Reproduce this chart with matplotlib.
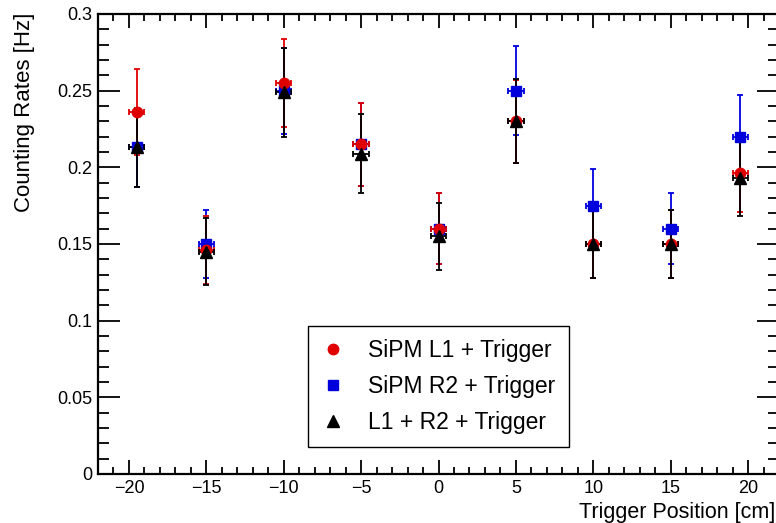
#!/usr/bin/env python3
# Counting rates vs trigger position, three coincidence conditions.

import matplotlib
matplotlib.use('Agg')
import matplotlib.pyplot as plt
from matplotlib.ticker import MultipleLocator, FormatStrFormatter

plt.rcParams['font.family'] = ['Liberation Sans', 'DejaVu Sans']

# Data.

positions = [-19.5, -15, -10, -5, 0, 5, 10, 15, 19.5]
pos_err = [0.5] * 9

rate_l1 = [0.236, 0.146, 0.255, 0.215, 0.160, 0.230, 0.150, 0.150, 0.196]
err_l1 = [0.028, 0.022, 0.029, 0.027, 0.023, 0.027, 0.022, 0.022, 0.025]

rate_r2 = [0.213, 0.150, 0.250, 0.215, 0.160, 0.250, 0.175, 0.160, 0.220]
err_r2 = [0.026, 0.022, 0.028, 0.027, 0.023, 0.029, 0.024, 0.023, 0.027]

rate_both = [0.213, 0.145, 0.249, 0.209, 0.155, 0.230, 0.150, 0.150, 0.193]
err_both = [0.026, 0.022, 0.029, 0.026, 0.022, 0.0275, 0.022, 0.022, 0.025]

labels = ['SiPM L1 + Trigger', 'SiPM R2 + Trigger', 'L1 + R2 + Trigger']

# Figure and axes, placed like the original ROOT canvas.

fig = plt.figure(figsize=(7.76, 5.23), dpi=100)
ax = fig.add_axes([98 / 776, 49 / 523, 681 / 776, 460 / 523])

ebkw = dict(capsize=2, elinewidth=1.3, capthick=1.3, linestyle='none')
h_r2 = ax.errorbar(positions, rate_r2, xerr=pos_err, yerr=err_r2, fmt='s',
                   color='#0000dd', ms=6.5, **ebkw)
h_l1 = ax.errorbar(positions, rate_l1, xerr=pos_err, yerr=err_l1, fmt='o',
                   color='#e00000', ms=7.5, **ebkw)
h_both = ax.errorbar(positions, rate_both, xerr=pos_err, yerr=err_both, fmt='^',
                     color='black', ms=8.5, **ebkw)

ax.set_xlim(-22, 22)
ax.set_ylim(0, 0.3)
ax.xaxis.set_major_locator(MultipleLocator(5))
ax.xaxis.set_minor_locator(MultipleLocator(1))
ax.yaxis.set_major_locator(MultipleLocator(0.05))
ax.yaxis.set_minor_locator(MultipleLocator(0.01))
ax.yaxis.set_major_formatter(FormatStrFormatter('%g'))

ax.tick_params(axis='both', which='both', direction='in', top=True, right=True,
               labelsize=13, width=1.3)
ax.tick_params(axis='x', which='major', length=10, pad=4)
ax.tick_params(axis='x', which='minor', length=5)
ax.tick_params(axis='y', which='major', length=16, pad=4)
ax.tick_params(axis='y', which='minor', length=8)
for spine in ax.spines.values():
    spine.set_linewidth(1.6)

# Axis titles, ROOT style (aligned to the ends of the axes).

fig.text(25 / 776, 1 - 13 / 523, 'Counting Rates [Hz]', rotation=90,
         ha='center', va='top', fontsize=16)
fig.text(775 / 776, 5 / 523, 'Trigger Position [cm]', ha='right',
         va='baseline', fontsize=15.5)

leg = ax.legend([h_l1[0], h_r2[0], h_both[0]], labels, loc='center',
                bbox_to_anchor=(0.5, 0.19), fontsize=16.5, frameon=True,
                fancybox=False, edgecolor='black', framealpha=1,
                handlelength=1.0, handletextpad=1.0, labelspacing=0.55,
                borderpad=0.6, borderaxespad=0)
leg.get_frame().set_linewidth(1.0)

plt.savefig('out.png', dpi=100)
